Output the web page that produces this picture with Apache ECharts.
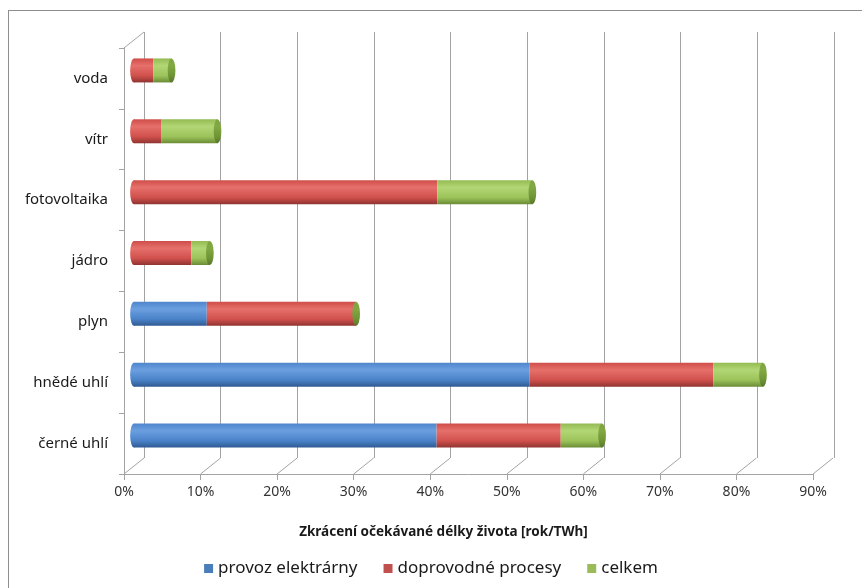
<!DOCTYPE html>
<html>
<head>
<meta charset="utf-8">
<script src="https://cdn.jsdelivr.net/npm/echarts@6/dist/echarts.min.js"></script>
<style>
  body { margin: 0; background: #fff; }
  #chart { position: absolute; left: 0; top: 0; width: 862px; height: 588px; }
  #frame { position: absolute; left: 8px; top: 10px; width: 900px; height: 600px;
           border: 1px solid #8e8e8e; pointer-events: none; }
</style>
</head>
<body>
<div id="chart"></div>
<div id="frame"></div>
<script>
  // kategorie odspodu nahoru (jak je kreslí kategoriální osa)
  const categories = ['černé uhlí', 'hnědé uhlí', 'plyn', 'jádro', 'fotovoltaika', 'vítr', 'voda']
  // hodnoty v procentech
  const provoz = [39.5, 51.6, 9.5, 0, 0, 0, 0]
  const doprovodne = [16.2, 24.0, 19.5, 7.5, 39.6, 3.6, 2.5]
  const celkem = [5.4, 6.5, 0, 2.4, 12.4, 7.3, 2.4]
  const ticks = [0, 10, 20, 30, 40, 50, 60, 70, 80, 90]

  const seriesNames = ['provoz elektrárny', 'doprovodné procesy', 'celkem']
  const flatColors = ['#4a7ebb', '#c0504d', '#9bbb59']

  function grad(c0, c1, c2, c3) {
    return new echarts.graphic.LinearGradient(0, 0, 0, 1, [
      { offset: 0, color: c0 },
      { offset: 0.3, color: c1 },
      { offset: 0.72, color: c2 },
      { offset: 1, color: c3 }
    ])
  }
  const fills = [
    grad('#4f86cc', '#6b9fe0', '#4a82c8', '#2f5a92'),
    grad('#cf4d49', '#e6706b', '#d0504c', '#8f3431'),
    grad('#93bb52', '#b2d675', '#9cc35a', '#6a8c35')
  ]
  const capFill = grad('#7fa541', '#82a843', '#6f9436', '#58772a')

  const values = [provoz, doprovodne, celkem]
  const totals = categories.map((c, i) => provoz[i] + doprovodne[i] + celkem[i])
  const firstIdx = categories.map((c, i) => values.findIndex(v => v[i] > 0))

  const chart = echarts.init(document.getElementById('chart'))
  const font = 'Noto Sans'
  const gridLine = '#a3a3a3'

  chart.setOption({
    animation: false,
    textStyle: { fontFamily: font },
    legend: {
      bottom: 6,
      left: 'center',
      icon: 'rect',
      itemWidth: 9,
      itemHeight: 9,
      itemGap: 26,
      textStyle: { fontSize: 17, color: '#1a1a1a', fontFamily: font },
      data: seriesNames.map((n, k) => ({ name: n, itemStyle: { color: flatColors[k] } }))
    },
    grid: [
      // zadní stěna
      { left: 144, top: 32, width: 690, height: 426 },
      // přední hrana (osa s popisky)
      { left: 124, top: 48, width: 689, height: 426 },
      // sloupce uprostřed hloubky
      { left: 134, top: 40, width: 689.5, height: 426 }
    ],
    xAxis: [
      {
        gridIndex: 0, type: 'value', min: 0, max: 90, interval: 10,
        axisLine: { show: false }, axisTick: { show: false }, axisLabel: { show: false },
        splitLine: { show: true, lineStyle: { color: gridLine, width: 1 } }
      },
      {
        gridIndex: 1, type: 'value', min: 0, max: 90, interval: 10,
        axisLine: { show: true, lineStyle: { color: gridLine } },
        axisTick: { show: true, length: 6, lineStyle: { color: gridLine } },
        axisLabel: { formatter: '{value}%', fontSize: 14, color: '#333', margin: 11 },
        splitLine: { show: false },
        name: 'Zkrácení očekávané délky života [rok/TWh]',
        nameLocation: 'middle',
        nameGap: 51,
        nameTextStyle: { fontSize: 13.5, fontWeight: 'bold', color: '#1a1a1a',
                         fontFamily: font, padding: [0, 50, 0, 0] }
      },
      {
        gridIndex: 2, type: 'value', min: 0, max: 90, show: false
      }
    ],
    yAxis: [
      { gridIndex: 0, type: 'category', data: categories, show: false },
      {
        gridIndex: 1, type: 'category', data: categories,
        axisLine: { show: true, lineStyle: { color: gridLine } },
        axisTick: { show: true, length: 5, lineStyle: { color: gridLine } },
        axisLabel: { fontSize: 15, color: '#1a1a1a', margin: 16 }
      },
      { gridIndex: 2, type: 'category', data: categories, show: false }
    ],
    series: [
      // šikmé čáry podlahy
      {
        type: 'custom', xAxisIndex: 1, yAxisIndex: 1, silent: true, z: 1,
        data: ticks.map(t => [t, 0]),
        renderItem(params, api) {
          const cs = params.coordSys
          const x = api.coord([api.value(0), 0])[0]
          const yb = cs.y + cs.height
          return { type: 'line', shape: { x1: x, y1: yb, x2: x + 20, y2: yb - 16 },
                   style: { stroke: gridLine, lineWidth: 1 } }
        }
      },
      // horní hrana levé stěny
      {
        type: 'custom', xAxisIndex: 1, yAxisIndex: 1, silent: true, z: 1,
        data: [[0, 0]],
        renderItem(params) {
          const cs = params.coordSys
          return { type: 'line', shape: { x1: cs.x, y1: cs.y, x2: cs.x + 20, y2: cs.y - 16 },
                   style: { stroke: gridLine, lineWidth: 1 } }
        }
      },
      // levé konce válců
      {
        type: 'custom', xAxisIndex: 2, yAxisIndex: 2, silent: true, z: 2,
        data: categories.map((c, i) => [0, i, firstIdx[i]]),
        renderItem(params, api) {
          const p = api.coord([0, api.value(1)])
          return { type: 'circle', x: p[0], y: p[1], scaleX: 0.32,
                   shape: { cx: 0, cy: 0, r: 12 },
                   style: { fill: fills[api.value(2)] } }
        }
      },
      ...seriesNames.map((n, k) => ({
        name: n,
        type: 'bar',
        stack: 'total',
        xAxisIndex: 2,
        yAxisIndex: 2,
        barWidth: 24,
        z: 3,
        color: flatColors[k],
        itemStyle: { color: fills[k] },
        data: values[k]
      })),
      // pravé konce válců
      {
        type: 'custom', xAxisIndex: 2, yAxisIndex: 2, silent: true, z: 4,
        data: categories.map((c, i) => [totals[i], i]),
        renderItem(params, api) {
          const p = api.coord([api.value(0), api.value(1)])
          return { type: 'circle', x: p[0], y: p[1], scaleX: 0.32,
                   shape: { cx: 0, cy: 0, r: 12 },
                   style: { fill: capFill } }
        }
      }
    ]
  })
</script>
</body>
</html>
